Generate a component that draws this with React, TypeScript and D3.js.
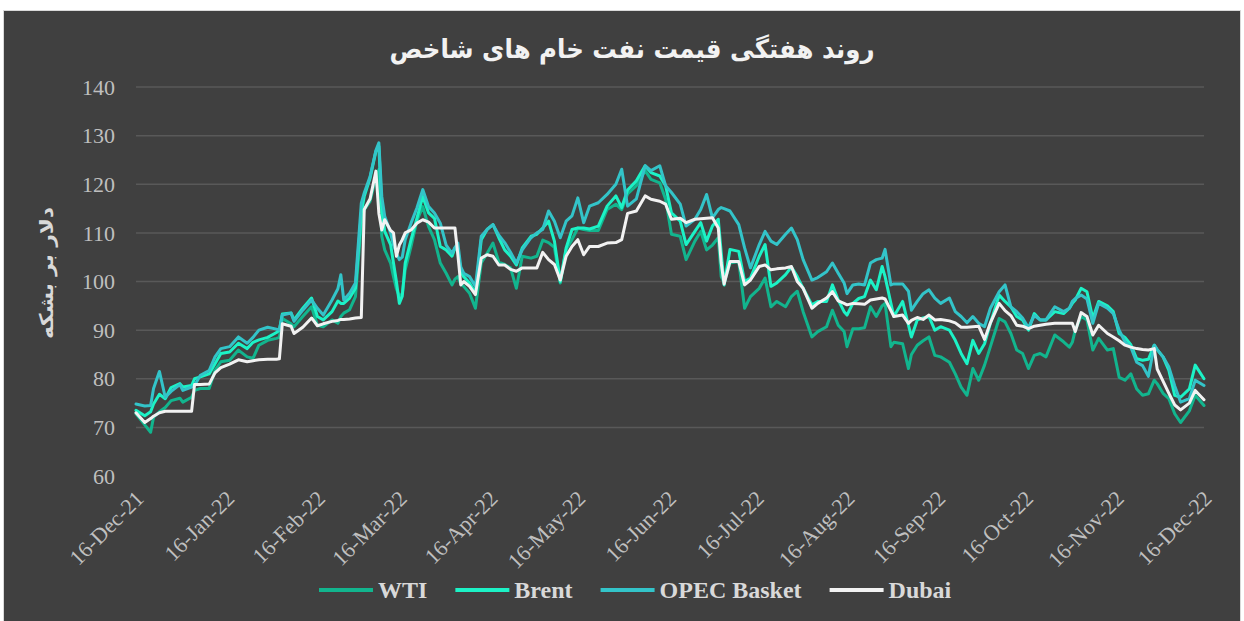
import React, { useEffect, useRef } from 'react';
import * as d3 from 'd3';

// first day of the series, offsets below are in days from it
const startDate = new Date(2021, 11, 16);
const endDate = new Date(2022, 11, 16);

const dayOffsets = [
  0, 3, 5, 6, 8, 10, 12, 15, 16, 19,
  20, 22, 25, 27, 29, 32, 35, 38, 40, 42,
  45, 48, 49, 50, 53, 54, 57, 60, 62, 64,
  67, 69, 70, 71, 73, 75, 77, 78, 80, 82,
  83, 84, 85, 87, 88, 89, 90, 91, 92, 94,
  96, 98, 100, 102, 104, 106, 108, 109, 110, 111,
  112, 114, 116, 118, 120, 122, 124, 126, 128, 130,
  132, 135, 137, 139, 141, 143, 145, 147, 149, 151,
  153, 155, 158, 161, 164, 166, 168, 171, 174, 176,
  179, 181, 183, 186, 188, 191, 193, 195, 197, 199,
  200, 201, 203, 206, 208, 210, 213, 215, 217, 219,
  222, 224, 226, 228, 231, 233, 236, 238, 240, 242,
  243, 245, 247, 249, 251, 253, 255, 256, 258, 259,
  262, 264, 265, 267, 269, 271, 273, 275, 278, 280,
  282, 284, 286, 288, 290, 292, 295, 297, 299, 301,
  303, 305, 307, 309, 311, 314, 317, 319, 320, 321,
  323, 325, 327, 329, 332, 334, 336, 338, 340, 342,
  344, 346, 348, 349, 351, 353, 355, 357, 360, 362,
  365,
];

const wti = [
  72.8, 70.5, 69.0, 72.1, 73.2, 74.1, 75.5, 76.0, 75.2, 76.2,
  77.6, 78.0, 78.0, 81.7, 83.5, 83.8, 85.9, 84.5, 84.2, 86.9,
  87.9, 88.3, 88.5, 92.4, 91.3, 90.7, 92.8, 94.8, 91.0, 90.7,
  92.1, 91.4, 92.8, 93.5, 94.2, 96.9, 112.0, 114.8, 116.5, 121.5,
  123.0, 109.3, 106.5, 103.8, 101.0, 98.5, 96.9, 97.5, 102.4, 107.2,
  112.5, 115.4, 111.3, 108.6, 103.8, 101.7, 99.3, 100.5, 101.0, 99.5,
  99.0, 97.6, 94.5, 103.8, 105.8, 107.9, 104.0, 103.5, 102.8, 98.6,
  105.2, 104.8, 105.2, 108.5, 108.0, 107.0, 99.7, 106.6, 108.6, 111.0,
  110.7, 110.5, 110.5, 114.8, 115.9, 114.8, 118.0, 119.7, 122.8, 121.0,
  120.3, 116.9, 109.7, 109.3, 104.5, 108.3, 110.3, 106.5, 107.5, 109.0,
  101.0, 99.7, 103.8, 104.1, 94.5, 96.9, 98.6, 100.7, 94.8, 95.9,
  94.8, 96.9, 98.0, 93.8, 88.6, 89.7, 90.7, 94.1, 91.0, 89.7,
  86.6, 90.3, 90.3, 90.5, 94.8, 92.8, 95.0, 95.5, 86.6, 87.5,
  87.2, 82.1, 85.0, 86.9, 87.8, 88.6, 84.8, 84.5, 83.4, 81.0,
  78.3, 76.6, 82.1, 79.7, 82.8, 86.6, 92.4, 91.7, 89.3, 85.9,
  85.2, 82.1, 84.8, 85.2, 84.5, 89.0, 87.6, 86.5, 87.5, 90.0,
  92.8, 92.1, 85.9, 88.3, 85.9, 86.2, 80.3, 79.7, 81.0, 77.9,
  76.6, 76.9, 79.7, 79.0, 77.0, 75.9, 72.8, 71.0, 73.4, 76.6,
  74.5,
];

const brent = [
  73.5, 72.4, 73.2, 74.8, 76.8, 75.9, 78.2, 79.0, 78.3, 78.6,
  80.0, 80.4, 81.0, 83.1, 85.2, 85.5, 87.3, 86.2, 87.5, 88.0,
  88.5, 89.5, 90.0, 93.3, 93.5, 92.1, 94.5, 96.6, 92.8, 92.1,
  93.8, 96.0, 95.5, 95.5, 96.6, 98.6, 114.1, 117.5, 121.3, 126.8,
  127.8, 114.8, 110.3, 107.6, 103.8, 100.0, 95.5, 97.0, 103.8, 108.6,
  113.0, 117.5, 114.1, 113.0, 107.2, 106.5, 105.2, 106.9, 106.5, 102.0,
  101.0, 99.7, 97.6, 108.6, 110.7, 111.7, 109.0, 106.5, 105.2, 103.4,
  106.9, 109.3, 109.7, 111.0, 112.4, 108.3, 100.0, 106.9, 110.7, 111.0,
  111.0, 110.8, 111.4, 115.5, 117.6, 115.2, 118.8, 120.7, 123.8, 122.4,
  121.7, 119.7, 114.1, 112.4, 107.6, 110.3, 112.1, 108.3, 111.4, 112.8,
  106.0, 99.3, 106.6, 106.2, 100.0, 100.7, 105.2, 107.6, 99.0, 99.7,
  101.4, 103.0, 101.0, 98.6, 95.2, 95.9, 95.9, 99.3, 96.2, 93.8,
  93.1, 95.5, 96.5, 96.9, 100.3, 98.3, 103.1, 101.0, 95.5, 92.8,
  95.9, 91.0, 88.6, 92.1, 92.5, 92.8, 90.0, 90.7, 90.0, 87.9,
  85.2, 83.1, 87.9, 85.2, 87.2, 91.4, 97.2, 95.9, 94.8, 92.8,
  92.1, 90.0, 93.4, 92.1, 92.1, 93.8, 93.4, 94.5, 95.5, 96.2,
  98.6, 97.9, 92.4, 95.9, 95.0, 93.8, 89.3, 88.5, 87.0, 84.1,
  83.8, 84.0, 86.9, 86.0, 84.5, 81.7, 76.6, 76.2, 77.9, 82.8,
  80.0,
];

const opecBasket = [
  74.8, 74.4, 74.5, 78.0, 81.5, 76.2, 77.4, 78.8, 77.6, 78.3,
  78.6, 80.7, 81.7, 84.5, 86.2, 86.6, 88.6, 87.3, 88.5, 90.0,
  90.6, 90.2, 90.0, 93.1, 93.5, 91.8, 94.1, 96.2, 94.5, 93.1,
  96.2, 98.5, 101.4, 96.2, 97.6, 99.7, 116.1, 118.2, 121.6, 127.0,
  128.5, 117.5, 113.4, 110.0, 107.5, 105.8, 104.5, 105.0, 108.6, 112.0,
  115.1, 118.9, 115.4, 114.1, 112.0, 107.5, 105.8, 107.0, 107.9, 103.0,
  101.7, 101.0, 99.0, 109.3, 110.7, 111.7, 109.5, 108.0, 106.0, 103.8,
  106.5, 109.0, 110.0, 110.7, 114.5, 112.4, 109.0, 112.4, 113.5, 117.2,
  112.1, 115.5, 116.2, 117.9, 120.0, 123.1, 115.5, 117.0, 123.8, 122.8,
  123.8, 119.7, 118.3, 115.9, 111.4, 112.8, 114.8, 117.9, 113.1, 114.8,
  115.2, 115.0, 114.5, 111.7, 106.9, 102.8, 107.6, 110.3, 108.3, 107.6,
  109.7, 111.0, 108.6, 104.5, 100.3, 100.8, 102.0, 103.8, 101.7, 99.7,
  97.5, 99.3, 99.5, 99.3, 103.8, 104.5, 104.8, 106.6, 99.3, 99.5,
  99.5, 98.0, 94.1, 95.9, 97.5, 98.3, 96.6, 95.5, 96.6, 93.8,
  92.8, 91.5, 92.8, 91.4, 90.7, 94.5, 97.9, 99.3, 94.8, 93.8,
  92.5, 90.5, 93.0, 92.1, 92.1, 94.8, 93.8, 94.5, 95.9, 96.5,
  97.2, 96.4, 91.4, 95.5, 94.5, 93.4, 90.0, 87.6, 86.5, 83.4,
  82.7, 80.5, 86.9, 86.0, 84.5, 82.4, 78.5, 75.2, 75.9, 79.7,
  78.6,
];

const dubai = [
  73.0, 71.0, 71.8, 72.3, 73.0, 73.3, 73.3, 73.3, 73.3, 73.3,
  78.8, 78.8, 78.9, 81.2, 82.3, 83.0, 83.9, 83.5, 83.7, 83.9,
  84.0, 84.0, 84.1, 91.3, 90.8, 89.3, 90.6, 92.5, 90.9, 91.3,
  91.8, 92.0, 92.2, 92.2, 92.3, 92.5, 92.6, 114.8, 117.0, 122.7,
  114.0, 110.6, 112.7, 110.5, 110.0, 105.2, 107.5, 108.6, 110.0, 110.6,
  112.0, 112.7, 112.2, 111.0, 111.0, 111.0, 111.0, 111.0, 105.5, 99.3,
  100.0, 99.0, 97.3, 104.8, 105.5, 105.2, 103.4, 103.4, 102.5, 102.1,
  102.8, 102.8, 102.8, 106.0, 104.5, 103.5, 100.3, 105.2, 107.2, 108.6,
  105.5, 107.2, 107.2, 107.9, 108.0, 108.6, 114.0, 114.5, 117.6, 116.9,
  116.5, 115.9, 112.8, 113.0, 112.1, 112.8, 112.9, 113.0, 113.1, 111.0,
  103.8, 99.5, 104.1, 104.1, 99.3, 100.3, 103.1, 103.4, 102.4, 102.6,
  102.8, 103.1, 100.0, 98.6, 94.5, 95.5, 96.6, 97.9, 96.0, 95.5,
  95.2, 95.5, 95.4, 95.3, 96.2, 96.4, 96.6, 96.4, 94.0, 92.8,
  93.1, 91.4, 92.0, 92.6, 92.2, 93.1, 92.1, 92.2, 91.9, 91.5,
  90.6, 90.6, 90.7, 90.8, 88.1, 91.5, 95.5, 94.0, 93.0, 91.0,
  90.8, 90.3, 90.8, 91.0, 91.2, 91.4, 91.4, 91.4, 91.4, 89.7,
  93.6, 92.8, 89.0, 91.0, 89.3, 88.6, 87.8, 86.9, 86.5, 86.2,
  86.0, 85.9, 86.2, 82.0, 79.5, 77.0, 74.6, 73.6, 75.0, 77.6,
  75.7,
];

const seriesNames = ['WTI', 'Brent', 'OPEC Basket', 'Dubai'];
const seriesValues = [wti, brent, opecBasket, dubai];
const seriesColors = ['#12b58e', '#1cf2c6', '#33c4c9', '#f2f2f2'];

const yTicks = [60, 70, 80, 90, 100, 110, 120, 130, 140];
const xTickLabels = [
  '16-Dec-21', '16-Jan-22', '16-Feb-22', '16-Mar-22', '16-Apr-22', '16-May-22', '16-Jun-22',
  '16-Jul-22', '16-Aug-22', '16-Sep-22', '16-Oct-22', '16-Nov-22', '16-Dec-22',
];

const chartTitle = 'روند هفتگی قیمت نفت خام های شاخص';
const yAxisTitle = 'دلار بر بشکه';

export default function App() {
  const svgRef = useRef<SVGSVGElement>(null);

  useEffect(() => {
    const width = 1244;
    const height = 621;
    const plot = { left: 136, right: 1204, top: 87, bottom: 476 };

    const svg = d3.select(svgRef.current);
    svg.selectAll('*').remove();

    // panel
    svg.append('rect').attr('x', 0).attr('y', 0).attr('width', width).attr('height', height).attr('fill', '#ffffff');
    svg.append('rect')
      .attr('x', 3.5).attr('y', 10.5)
      .attr('width', 1237).attr('height', 620)
      .attr('fill', '#404040')
      .attr('stroke', '#d9d9d9')
      .attr('stroke-width', 1);

    const xScale = d3.scaleTime().domain([startDate, endDate]).range([plot.left, plot.right]);
    const yScale = d3.scaleLinear().domain([60, 140]).range([plot.bottom, plot.top]);

    // gridlines
    svg.append('g')
      .selectAll('line')
      .data(yTicks.filter(t => t > 60))
      .join('line')
      .attr('x1', plot.left).attr('x2', plot.right)
      .attr('y1', d => yScale(d)).attr('y2', d => yScale(d))
      .attr('stroke', '#595959')
      .attr('stroke-width', 1.5);

    // y tick labels
    svg.append('g')
      .selectAll('text')
      .data(yTicks)
      .join('text')
      .attr('x', 115)
      .attr('y', d => yScale(d))
      .attr('dy', '0.35em')
      .attr('text-anchor', 'end')
      .attr('font-family', '"Liberation Serif", "Times New Roman", serif')
      .attr('font-size', 22)
      .attr('fill', '#bfbfbf')
      .text(d => d);

    // x tick labels, rotated
    const parseLabel = d3.timeParse('%d-%b-%y');
    svg.append('g')
      .selectAll('text')
      .data(xTickLabels)
      .join('text')
      .attr('transform', d => `translate(${xScale(parseLabel(d) as Date) + 9},500) rotate(-45)`)
      .attr('text-anchor', 'end')
      .attr('font-family', '"Liberation Serif", "Times New Roman", serif')
      .attr('font-size', 22)
      .attr('fill', '#bfbfbf')
      .text(d => d);

    // lines
    const dates = dayOffsets.map(o => d3.timeDay.offset(startDate, o));
    const lineGenerator = d3.line<number>()
      .x((_, i) => xScale(dates[i]))
      .y(v => yScale(v));

    seriesValues.forEach((values, k) => {
      svg.append('path')
        .datum(values)
        .attr('fill', 'none')
        .attr('stroke', seriesColors[k])
        .attr('stroke-width', 3)
        .attr('stroke-linejoin', 'round')
        .attr('stroke-linecap', 'round')
        .attr('d', lineGenerator);
    });

    // title
    svg.append('text')
      .attr('x', 632).attr('y', 58)
      .attr('text-anchor', 'middle')
      .attr('font-family', '"DejaVu Sans", sans-serif')
      .attr('font-weight', 'bold')
      .attr('font-size', 26)
      .attr('textLength', 485)
      .attr('lengthAdjust', 'spacingAndGlyphs')
      .attr('fill', '#f2f2f2')
      .text(chartTitle);

    // y axis title
    svg.append('text')
      .attr('transform', 'translate(46,273) rotate(-90)')
      .attr('text-anchor', 'middle')
      .attr('dy', '0.35em')
      .attr('font-family', '"DejaVu Sans", sans-serif')
      .attr('font-weight', 'bold')
      .attr('font-size', 19)
      .attr('textLength', 132)
      .attr('lengthAdjust', 'spacingAndGlyphs')
      .attr('fill', '#d9d9d9')
      .text(yAxisTitle);

    // legend, laid out left to right
    const legend = svg.append('g');
    let cursor = 319;
    seriesNames.forEach((name, k) => {
      legend.append('line')
        .attr('x1', cursor).attr('x2', cursor + 54)
        .attr('y1', 590).attr('y2', 590)
        .attr('stroke', seriesColors[k])
        .attr('stroke-width', 4);
      const label = legend.append('text')
        .attr('x', cursor + 59).attr('y', 590)
        .attr('dy', '0.35em')
        .attr('font-family', '"Liberation Serif", "Times New Roman", serif')
        .attr('font-weight', 'bold')
        .attr('font-size', 24)
        .attr('fill', '#d9d9d9')
        .text(name);
      const w = (label.node() as SVGTextElement).getComputedTextLength();
      cursor += 59 + w + 28;
    });
  }, []);

  return (
    <svg
      ref={svgRef}
      width={1244}
      height={621}
      style={{ position: 'absolute', left: 0, top: 0, display: 'block' }}
    />
  );
}
